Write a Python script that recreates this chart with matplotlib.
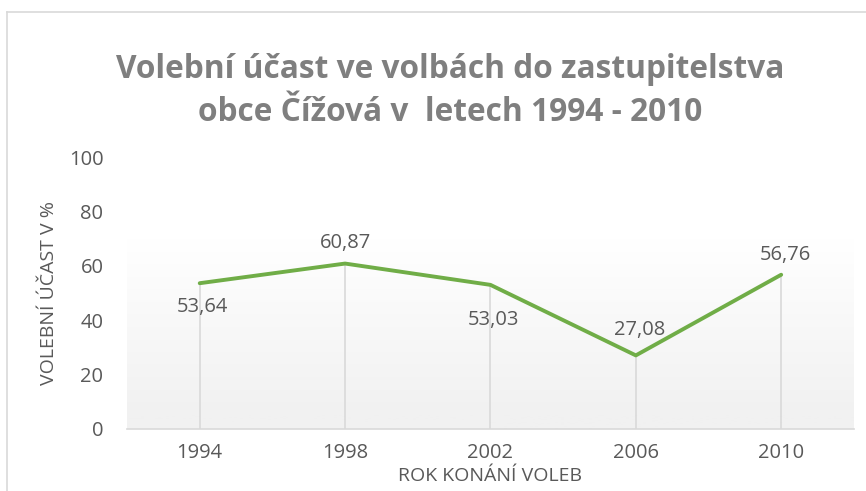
import numpy as np
import matplotlib.pyplot as plt
from matplotlib.lines import Line2D

# data
years = ['1994', '1998', '2002', '2006', '2010']
ucast = [53.64, 60.87, 53.03, 27.08, 56.76]
popisky = ['53,64', '60,87', '53,03', '27,08', '56,76']
# label offsets in points (dx, dy)
offsets = [(2, -17), (0, 15), (2, -25), (3, 18), (3, 14)]

plt.rcParams['font.family'] = ['Open Sans', 'DejaVu Sans']
grey = '#595959'

fig = plt.figure(figsize=(8.66, 4.91), dpi=100)
ax = fig.add_axes([0.1467, 0.1263, 0.8393, 0.5535])

# chart border (left and top edge only visible)
fig.add_artist(Line2D([7/866, 7/866], [0, 1 - 12/491], color='#d9d9d9', lw=1.2))
fig.add_artist(Line2D([7/866, 1], [1 - 12/491, 1 - 12/491], color='#d9d9d9', lw=1.2))

x = np.arange(len(years))
ax.set_xlim(-0.5, len(years) - 0.5)
ax.set_ylim(0, 100)

# plot area gradient
grad = np.linspace(0, 1, 256).reshape(-1, 1)
grad = np.clip((grad - 0.05) / 0.65, 0, 1)
ax.imshow(grad, extent=[-0.5, len(years) - 0.5, 0, 100], aspect='auto',
          cmap=plt.matplotlib.colors.LinearSegmentedColormap.from_list('g', ['#f1f1f1', '#ffffff']),
          origin='lower', zorder=0)

ax.vlines(x, 0, ucast, color='#d9d9d9', lw=1.2, zorder=1)
ax.plot(x, ucast, color='#70ad47', lw=2.8, solid_capstyle='round', zorder=3)

for xi, yi, t, (dx, dy) in zip(x, ucast, popisky, offsets):
    ax.annotate(t, (xi, yi), xytext=(dx, dy), textcoords='offset points',
                ha='center', va='center', fontsize=14.5, color=grey, zorder=4)

for s in ['top', 'right', 'left']:
    ax.spines[s].set_visible(False)
ax.spines['bottom'].set_color('#d9d9d9')
ax.spines['bottom'].set_linewidth(1.2)

ax.set_xticks(x)
ax.set_xticklabels(years)
ax.set_yticks(range(0, 101, 20))
ax.tick_params(axis='both', length=0, labelsize=14.5, labelcolor=grey)
ax.tick_params(axis='y', pad=17)
ax.tick_params(axis='x', pad=10)

ax.set_ylabel('VOLEBNÍ ÚČAST V %', fontsize=14, color=grey, labelpad=8)
ax.set_xlabel('ROK KONÁNÍ VOLEB', fontsize=14, color=grey, labelpad=3)

fig.text(0.52, 1 - 70/491, 'Volební účast ve volbách do zastupitelstva',
         ha='center', va='center', fontsize=22.8, fontweight='bold', color='#7f7f7f')
fig.text(0.52, 1 - 112/491, 'obce Čížová v  letech 1994 - 2010',
         ha='center', va='center', fontsize=22.8, fontweight='bold', color='#7f7f7f')

fig.savefig('out.png', dpi=100)
